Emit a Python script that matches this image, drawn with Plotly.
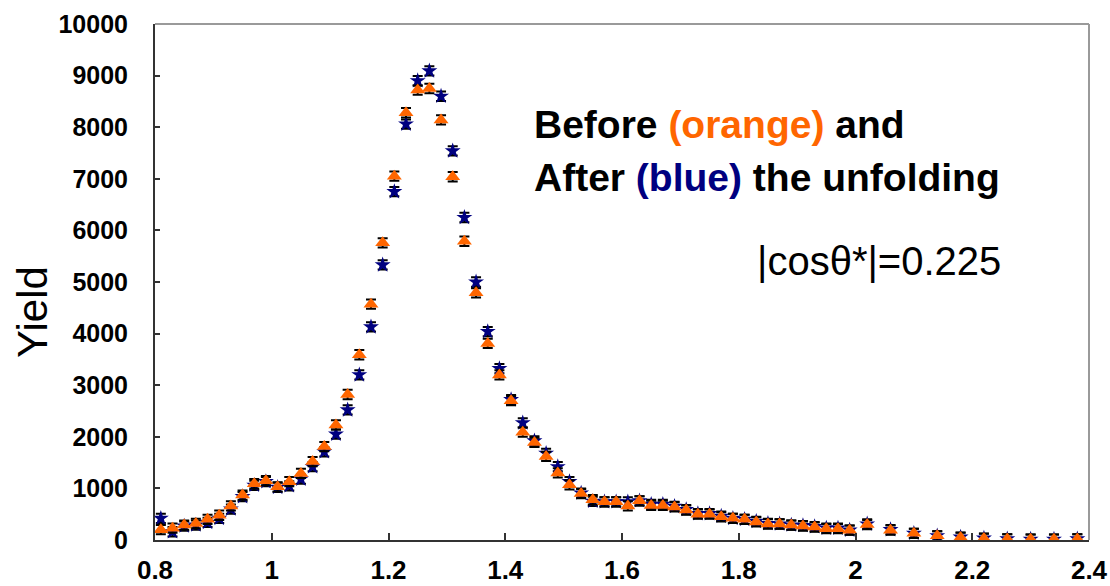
import plotly.graph_objects as go

x_bins = [0.81, 0.83, 0.85, 0.87, 0.89, 0.91, 0.93, 0.95, 0.97, 0.99,
          1.01, 1.03, 1.05, 1.07, 1.09, 1.11, 1.13, 1.15, 1.17, 1.19,
          1.21, 1.23, 1.25, 1.27, 1.29, 1.31, 1.33, 1.35, 1.37, 1.39,
          1.41, 1.43, 1.45, 1.47, 1.49, 1.51, 1.53, 1.55, 1.57, 1.59,
          1.61, 1.63, 1.65, 1.67, 1.69, 1.71, 1.73, 1.75, 1.77, 1.79,
          1.81, 1.83, 1.85, 1.87, 1.89, 1.91, 1.93, 1.95, 1.97, 1.99,
          2.02, 2.06, 2.10, 2.14, 2.18, 2.22, 2.26, 2.30, 2.34, 2.38]

after_blue = [420, 160, 270, 290, 340, 420, 600, 840, 1060, 1130,
              1020, 1050, 1180, 1420, 1710, 2050, 2520, 3200, 4130, 5330,
              6750, 8060, 8900, 9090, 8600, 7540, 6250, 5000, 4040, 3320,
              2720, 2270, 1920, 1680, 1420, 1130, 910, 750, 740, 740,
              740, 760, 690, 690, 650, 590, 510, 510, 460, 420,
              400, 360, 320, 310, 290, 280, 260, 230, 230, 190,
              310, 200, 130, 80, 55, 35, 20, 15, 15, 20]

before_orange = [200, 230, 290, 320, 400, 480, 660, 870, 1090, 1150,
                 1030, 1130, 1290, 1520, 1810, 2230, 2820, 3590, 4570, 5760,
                 7050, 8280, 8720, 8750, 8140, 7040, 5790, 4790, 3810, 3200,
                 2700, 2090, 1890, 1620, 1300, 1070, 900, 780, 740, 740,
                 660, 760, 670, 670, 640, 580, 500, 500, 450, 420,
                 400, 350, 310, 310, 290, 270, 250, 220, 220, 190,
                 300, 190, 130, 80, 50, 30, 20, 15, 15, 20]

x_tick_vals = [0.8, 1.0, 1.2, 1.4, 1.6, 1.8, 2.0, 2.2, 2.4]
x_tick_text = ["0.8", "1", "1.2", "1.4", "1.6", "1.8", "2", "2.2", "2.4"]
y_tick_vals = [0, 1000, 2000, 3000, 4000, 5000, 6000, 7000, 8000, 9000, 10000]
y_tick_text = ["0", "1000", "2000", "3000", "4000", "5000", "6000", "7000", "8000", "9000", "10000"]

FONT = "Liberation Sans, Arial, sans-serif"
ORANGE = "#FF6600"
NAVY = "#000080"

err = dict(type="constant", value=90, color="black", thickness=2, width=5)

fig = go.Figure()
fig.add_trace(go.Scatter(
    x=x_bins, y=after_blue, mode="markers", name="After",
    marker=dict(symbol="star", size=12, color=NAVY),
    error_y=err))
fig.add_trace(go.Scatter(
    x=x_bins, y=before_orange, mode="markers", name="Before",
    marker=dict(symbol="triangle-up", size=13, color=ORANGE),
    error_y=err))

fig.update_layout(
    width=1110, height=586,
    margin=dict(l=155, r=21, t=24, b=46),
    paper_bgcolor="white", plot_bgcolor="white",
    showlegend=False,
    font=dict(family=FONT, color="black"),
)
fig.update_xaxes(
    range=[0.8, 2.4], tickvals=x_tick_vals, ticktext=x_tick_text, automargin=False,
    showgrid=False, zeroline=False, showline=True, linecolor="#333333", linewidth=2,
    ticks="inside", ticklen=7, tickwidth=2, tickcolor="#333333",
    tickfont=dict(family=FONT, size=26, color="black", weight="bold"),
    ticklabelstandoff=6,
)
fig.update_yaxes(
    range=[0, 10000], tickvals=y_tick_vals, ticktext=y_tick_text, automargin=False,
    showgrid=False, zeroline=False, showline=True, linecolor="#333333", linewidth=2,
    ticks="inside", ticklen=5, tickwidth=2, tickcolor="#333333",
    tickfont=dict(family=FONT, size=25, color="black", weight="bold"),
    ticklabelstandoff=20,
)
# grey top and right frame
fig.add_shape(type="line", xref="x domain", yref="y domain", x0=0, x1=1, y0=1, y1=1,
              line=dict(color="#9a9a9a", width=2))
fig.add_shape(type="line", xref="x domain", yref="y domain", x0=1, x1=1, y0=0, y1=1,
              line=dict(color="#9a9a9a", width=2))

fig.add_annotation(xref="paper", yref="paper", x=-0.1306, y=0.442, text="Yield",
                   textangle=-90, showarrow=False, xanchor="center", yanchor="middle",
                   font=dict(family=FONT, size=42, color="black"))
fig.add_annotation(xref="paper", yref="paper", x=0.4040, y=0.8043,
                   text="<b>Before <span style='color:#FF6600'>(orange)</span> and</b>",
                   showarrow=False, xanchor="left", yanchor="middle",
                   font=dict(family=FONT, size=39, color="black"))
fig.add_annotation(xref="paper", yref="paper", x=0.4040, y=0.7016,
                   text="<b>After <span style='color:#000080'>(blue)</span> the unfolding</b>",
                   showarrow=False, xanchor="left", yanchor="middle",
                   font=dict(family=FONT, size=39, color="black"))
fig.add_annotation(xref="paper", yref="paper", x=0.6424, y=0.5407,
                   text="|cosθ*|=0.225",
                   showarrow=False, xanchor="left", yanchor="middle",
                   font=dict(family=FONT, size=40, color="black"))

fig.write_html("out.html")
